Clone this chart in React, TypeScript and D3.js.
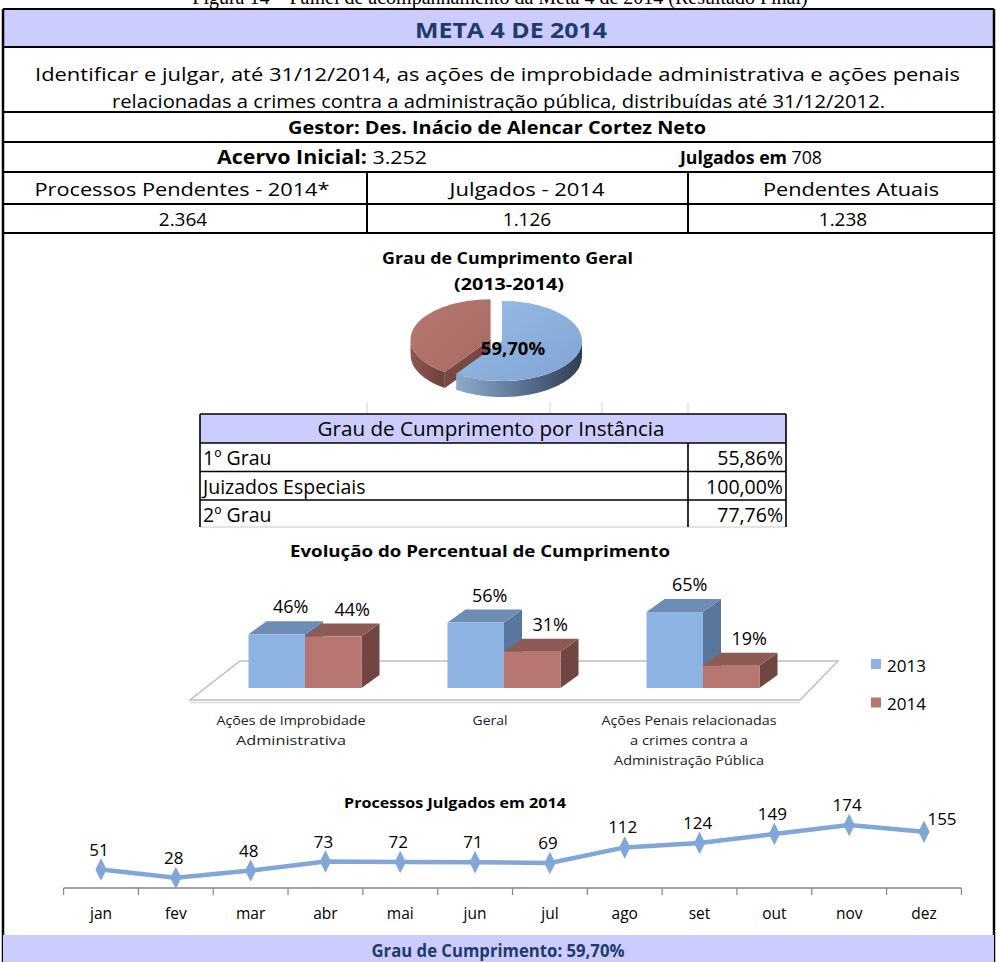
import React from 'react';
import * as d3 from 'd3';

const captionText = 'Figura 14 – Painel de acompanhamento da Meta 4 de 2014 (Resultado Final)';
const titleText = 'META 4 DE 2014';
const descLines = [
  'Identificar e julgar, até 31/12/2014, as ações de improbidade administrativa e ações penais',
  'relacionadas a crimes contra a administração pública, distribuídas até 31/12/2012.',
];
const gestorText = 'Gestor: Des. Inácio de Alencar Cortez Neto';
const acervoLabel = 'Acervo Inicial:';
const acervoValue = '3.252';
const julgadosEmLabel = 'Julgados em';
const julgadosEmValue = '708';
const summaryHeaders = ['Processos Pendentes - 2014*', 'Julgados - 2014', 'Pendentes Atuais'];
const summaryValues = ['2.364', '1.126', '1.238'];

const pieTitle = ['Grau de Cumprimento Geral', '(2013-2014)'];
const pieValues = [59.7, 40.3];
const pieLabelText = '59,70%';

const instTitle = 'Grau de Cumprimento por Instância';
const instancias = ['1º Grau', 'Juizados Especiais', '2º Grau'];
const instValues = ['55,86%', '100,00%', '77,76%'];

const barTitle = 'Evolução do Percentual de Cumprimento';
const barCategories = ['improbidade', 'geral', 'penais'];
const barCategoryLines = [
  ['Ações de Improbidade', 'Administrativa'],
  ['Geral'],
  ['Ações Penais relacionadas', 'a crimes contra a', 'Administração Pública'],
];
const seriesNames = ['2013', '2014'];
const series2013 = [46, 56, 65];
const series2014 = [44, 31, 19];

const lineTitle = 'Processos Julgados  em 2014';
const months = ['jan', 'fev', 'mar', 'abr', 'mai', 'jun', 'jul', 'ago', 'set', 'out', 'nov', 'dez'];
const julgados = [51, 28, 48, 73, 72, 71, 69, 112, 124, 149, 174, 155];

const footerText = 'Grau de Cumprimento: 59,70%';

const F = "'Open Sans', 'Noto Sans', sans-serif";
const NAVY = '#1f3b6d';
const LAV = '#ccccff';

type TP = {
  x: number; y: number; size: number; children: React.ReactNode;
  bold?: boolean; anchor?: 'start' | 'middle' | 'end'; w?: number; fill?: string;
};
function T({ x, y, size, children, bold, anchor = 'middle', w, fill = '#000' }: TP) {
  const extra: any = w ? { textLength: w, lengthAdjust: 'spacingAndGlyphs' } : {};
  return (
    <text x={x} y={y} fontSize={size} fontWeight={bold ? 'bold' : 'normal'} textAnchor={anchor} fill={fill} {...extra}>
      {children}
    </text>
  );
}

export default function App() {
  const W = 996, H = 962;
  const L = 3, R = 994;
  const rowY = [9, 47, 112, 142, 172, 204, 233];
  const colX = [L, 367, 688, R];
  const headerCenters = [182, 527, 851];
  const headerWidths = [295, 155, 176];
  const valueCenters = [183, 527, 843];

  // ---- pie ----
  const rx = 80, ry = 40, depth = 16;
  const pcx = 502, pcy = 341;
  const pie = d3.pie<number>().sort(null).value(d => d)(pieValues);
  const ept = (cx: number, cy: number, a: number): [number, number] => [cx + rx * Math.sin(a), cy - ry * Math.cos(a)];
  const explode = [0, 12];
  const slices = pie.map((s, i) => {
    const mid = (s.startAngle + s.endAngle) / 2;
    const cx = pcx + explode[i] * Math.sin(mid);
    const cy = pcy - explode[i] * Math.cos(mid) * (ry / rx);
    const a0 = s.startAngle, a1 = s.endAngle;
    const p0 = ept(cx, cy, a0), p1 = ept(cx, cy, a1);
    const large = a1 - a0 > Math.PI ? 1 : 0;
    const top = `M${cx},${cy}L${p0[0]},${p0[1]}A${rx},${ry} 0 ${large} 1 ${p1[0]},${p1[1]}Z`;
    const s0 = Math.max(a0, Math.PI / 2), s1 = Math.min(a1, (3 * Math.PI) / 2);
    let wall = '';
    if (s1 > s0) {
      const q0 = ept(cx, cy, s0), q1 = ept(cx, cy, s1);
      wall = `M${q0[0]},${q0[1]}A${rx},${ry} 0 0 1 ${q1[0]},${q1[1]}L${q1[0]},${q1[1] + depth}A${rx},${ry} 0 0 0 ${q0[0]},${q0[1] + depth}Z`;
    }
    const radial = `M${cx},${cy}L${p0[0]},${p0[1]}L${p0[0]},${p0[1] + depth}L${cx},${cy + depth}Z`;
    return { top, wall, radial, i };
  });

  // ---- bars ----
  const x0 = d3.scaleBand<string>().domain(barCategories).range([205.5, 802.5]);
  const groupW = 113;
  const x1 = d3.scaleBand<string>().domain(seriesNames).range([0, groupW]);
  const yb = d3.scaleLinear().domain([0, 70]).range([688, 606.2]);
  const bdx = 18, bdy = -13;
  const barColors = [
    { front: '#8db3e2', top: '#6d8db5', side: '#59779c' },
    { front: '#b77671', top: '#8d5a55', side: '#704542' },
  ];
  const barData = [series2013, series2014];
  const catLabelWidths = [[149, 110], [35], [175, 118, 150]];
  const labelDx = [[14, 19], [14, 18], [15, 18]];

  // ---- line ----
  const xl = d3.scalePoint<string>().domain(months).range([101, 924]);
  const step = xl.step();
  const yl = d3.scaleLinear().domain([0, 250]).range([888, 797.4]);
  const linePath = d3.line<number>().x((_, i) => xl(months[i])!).y(d => yl(d))(julgados)!;
  const diamond = d3.symbol().type(d3.symbolDiamond).size(110)()!;

  return (
    <svg width={W} height={H} viewBox={`0 0 ${W} ${H}`} style={{ position: 'absolute', left: 0, top: 0, background: '#fff' }} fontFamily={F}>
      <defs>
        <linearGradient id="blueTop" x1="0" y1="0" x2="1" y2="1">
          <stop offset="0" stopColor="#9bbde6" />
          <stop offset="1" stopColor="#7ea4d3" />
        </linearGradient>
        <linearGradient id="blueWall" x1="0" y1="0" x2="1" y2="0">
          <stop offset="0" stopColor="#8ea9ca" />
          <stop offset="0.5" stopColor="#5d7697" />
          <stop offset="1" stopColor="#2e3d52" />
        </linearGradient>
        <linearGradient id="redTop" x1="0" y1="0" x2="1" y2="1">
          <stop offset="0" stopColor="#b57972" />
          <stop offset="1" stopColor="#a86a63" />
        </linearGradient>
        <linearGradient id="redWall" x1="0" y1="0" x2="1" y2="0">
          <stop offset="0" stopColor="#8f5853" />
          <stop offset="1" stopColor="#6e403c" />
        </linearGradient>
      </defs>
      <rect x={0} y={0} width={W} height={H} fill="#fff" />
      {/* caption cut at top */}
      <text x={500} y={4} textAnchor="middle" fontFamily="'Liberation Serif', serif" fontSize={20}>{captionText}</text>

      {/* top table */}
      <rect x={L} y={rowY[0]} width={R - L} height={rowY[1] - rowY[0]} fill={LAV} />
      <T x={511} y={38} size={22} bold w={192} fill={NAVY}>{titleText}</T>
      <T x={497.5} y={81} size={19} w={925}>{descLines[0]}</T>
      <T x={498.5} y={108} size={19} w={773}>{descLines[1]}</T>
      <T x={497} y={134} size={17.5} bold w={418}>{gestorText}</T>
      <text x={322} y={164} textAnchor="middle" fontSize={19} textLength={210} lengthAdjust="spacingAndGlyphs">
        <tspan fontWeight="bold">{acervoLabel}</tspan>
        <tspan> {acervoValue}</tspan>
      </text>
      <text x={751} y={164} textAnchor="middle" fontSize={18} textLength={142} lengthAdjust="spacingAndGlyphs">
        <tspan fontWeight="bold">{julgadosEmLabel}</tspan>
        <tspan> {julgadosEmValue}</tspan>
      </text>
      {summaryHeaders.map((t, i) => (
        <T key={i} x={headerCenters[i]} y={196} size={19} w={headerWidths[i]}>{t}</T>
      ))}
      {summaryValues.map((t, i) => (
        <T key={i} x={valueCenters[i]} y={226} size={19}>{t}</T>
      ))}
      {rowY.map((y, i) => (
        <line key={i} x1={L} x2={R} y1={y} y2={y} stroke="#000" strokeWidth={2} />
      ))}
      {[colX[1], colX[2]].map((x, i) => (
        <line key={i} x1={x} x2={x} y1={rowY[4]} y2={rowY[6]} stroke="#000" strokeWidth={2} />
      ))}
      <line x1={L} x2={L} y1={rowY[0]} y2={H} stroke="#000" strokeWidth={2.5} />
      <line x1={R} x2={R} y1={rowY[0]} y2={H} stroke="#000" strokeWidth={2.5} />

      {/* pie */}
      <T x={507.5} y={264} size={16} bold w={251}>{pieTitle[0]}</T>
      <T x={509} y={290} size={16} bold w={110}>{pieTitle[1]}</T>
      {slices.slice().reverse().map(s => (
        <g key={s.i}>
          {s.i === 1 && <path d={s.radial} fill="#7a4844" />}
          {s.wall && <path d={s.wall} fill={s.i === 0 ? 'url(#blueWall)' : 'url(#redWall)'} />}
          <path d={s.top} fill={s.i === 0 ? 'url(#blueTop)' : 'url(#redTop)'} />
        </g>
      ))}
      <T x={513} y={355} size={18.5} bold>{pieLabelText}</T>

      {/* faint grid ticks */}
      {[367, 550, 602, 688].map((x, i) => (
        <line key={i} x1={x} x2={x} y1={402} y2={413} stroke="#d0d0d0" strokeWidth={1} />
      ))}

      {/* instance table */}
      <rect x={200} y={414} width={586} height={29} fill={LAV} />
      <T x={491} y={436} size={19.5} w={347}>{instTitle}</T>
      {instancias.map((t, i) => (
        <g key={i}>
          <T x={203} y={465 + i * 28.5} size={19.5} anchor="start">{t}</T>
          <T x={783} y={465 + i * 28.5} size={19.5} anchor="end">{instValues[i]}</T>
        </g>
      ))}
      {[414, 443, 471.5, 500].map((y, i) => (
        <line key={i} x1={200} x2={786} y1={y} y2={y} stroke="#000" strokeWidth={1.6} />
      ))}
      <line x1={200} x2={786} y1={527} y2={527} stroke="#c8c8c8" strokeWidth={1} />
      <line x1={200} x2={200} y1={414} y2={527} stroke="#000" strokeWidth={1.6} />
      <line x1={786} x2={786} y1={414} y2={527} stroke="#000" strokeWidth={1.6} />
      <line x1={688} x2={688} y1={443} y2={527} stroke="#000" strokeWidth={1.6} />

      {/* bar chart */}
      <T x={480} y={557} size={16.5} bold w={380}>{barTitle}</T>
      <polygon points="240,661 838,661 800,700 190,700" fill="#fff" stroke="#bfbfbf" strokeWidth={1.5} />
      <line x1={190} x2={800} y1={702.5} y2={702.5} stroke="#d9d9d9" strokeWidth={1.5} />
      {barCategories.map((c, ci) => (
        <g key={c}>
          {seriesNames.map((s, si) => {
            const v = barData[si][ci];
            const bx = x0(c)! + (x0.bandwidth() - groupW) / 2 + x1(s)!;
            const bw = x1.bandwidth();
            const by = yb(v);
            const bb = yb(0);
            const col = barColors[si];
            return (
              <g key={s}>
                <polygon points={`${bx + bw},${by} ${bx + bw + bdx},${by + bdy} ${bx + bw + bdx},${bb + bdy} ${bx + bw},${bb}`} fill={col.side} />
                <polygon points={`${bx},${by} ${bx + bdx},${by + bdy} ${bx + bw + bdx},${by + bdy} ${bx + bw},${by}`} fill={col.top} />
                <rect x={bx} y={by} width={bw} height={bb - by} fill={col.front} />
                <T x={bx + bw / 2 + labelDx[ci][si]} y={by - 21} size={18}>{v}%</T>
              </g>
            );
          })}
          {barCategoryLines[ci].map((t, li) => (
            <T key={li} x={x0(c)! + x0.bandwidth() / 2 - 14} y={725 + li * 20} size={13.5} w={catLabelWidths[ci][li]} fill="#222">{t}</T>
          ))}
        </g>
      ))}
      {seriesNames.map((s, si) => (
        <g key={s}>
          <rect x={871} y={659 + si * 38.5} width={10} height={10} fill={barColors[si].front} />
          <T x={887} y={671.5 + si * 38.5} size={17} anchor="start">{s}</T>
        </g>
      ))}

      {/* line chart */}
      <T x={455} y={808} size={15} bold w={222}>{lineTitle}</T>
      <line x1={xl(months[0])! - step / 2} x2={xl(months[11])! + step / 2} y1={888} y2={888} stroke="#868686" strokeWidth={1.5} />
      {months.concat(['']).map((m, i) => {
        const x = xl(months[0])! - step / 2 + i * step;
        return <line key={i} x1={x} x2={x} y1={888} y2={895} stroke="#868686" strokeWidth={1.2} />;
      })}
      {months.map(m => (
        <T key={m} x={xl(m)!} y={919} size={15.5}>{m}</T>
      ))}
      <path d={linePath} fill="none" stroke="#80a7d8" strokeWidth={4.5} strokeLinejoin="round" />
      {julgados.map((v, i) => (
        <path key={i} d={diamond} transform={`translate(${xl(months[i])},${yl(v)}) scale(1,1.15)`} fill="#80a7d8" />
      ))}
      {julgados.map((v, i) => {
        const last = i === julgados.length - 1;
        return (
          <T key={i} x={xl(months[i])! + (last ? 18 : -2)} y={yl(v) - (last ? 7 : 14)} size={17}>{v}</T>
        );
      })}

      {/* footer */}
      <rect x={L} y={935} width={R - L} height={H - 935} fill={LAV} />
      <T x={498} y={957} size={17.5} bold w={253} fill={NAVY}>{footerText}</T>
    </svg>
  );
}
